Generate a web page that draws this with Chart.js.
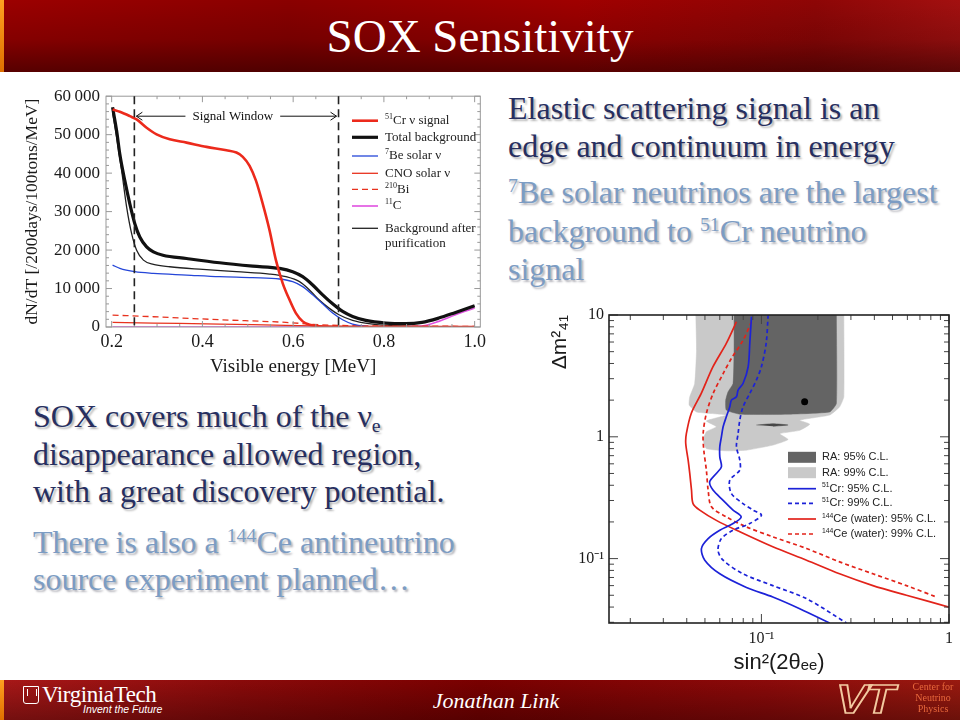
<!DOCTYPE html>
<html>
<head>
<meta charset="utf-8">
<script src="https://cdn.jsdelivr.net/npm/chart.js@4.4.1/dist/chart.umd.min.js"></script>
<style>
  html, body { margin: 0; padding: 0; }
  body { width: 960px; height: 720px; position: relative; overflow: hidden; background: #fff;
         font-family: "Liberation Serif", "Times New Roman", serif; }
  #header { position: absolute; left: 0; top: 0; width: 960px; height: 72px;
            background: linear-gradient(to bottom, rgba(0,0,0,0) 0%, rgba(0,0,0,0.15) 55%, rgba(30,0,0,0.55) 100%),
                        linear-gradient(to right, #9c0000 0%, #8a0000 30%, #a00000 60%, #8e0606 85%, #a31010 100%); }
  #footer { position: absolute; left: 0; top: 680px; width: 960px; height: 40px;
            background: linear-gradient(to bottom, rgba(0,0,0,0) 0%, rgba(20,0,0,0.35) 100%),
                        linear-gradient(to right, #a81818 0%, #8a0a0a 25%, #7a0000 50%, #8c0a0a 80%, #9a1a10 100%); }
  .stripe { position: absolute; left: 0; top: 0; width: 4px; height: 100%;
            background: linear-gradient(to bottom, #ffa020, #e07000); }
  #title { position: absolute; left: 0; top: 0; width: 960px; height: 72px; line-height: 72px;
           text-align: center; color: #fff; font-size: 47px; }
  .txt { position: absolute; font-size: 32px; line-height: 37.5px; white-space: nowrap; }
  .navy { color: #272f60; text-shadow: 2px 2px 2px rgba(0,0,0,0.3); }
  .light { color: #7c9cc3; text-shadow: 2px 2px 2px rgba(40,40,60,0.35); }
  sup { font-size: 62%; vertical-align: 0.55em; line-height: 0; }
  sub { font-size: 62%; vertical-align: -0.25em; line-height: 0; }
  .box { position: absolute; }
  #crest { position: absolute; left: 23px; top: 686px; width: 14px; height: 16px; border: 1.5px solid #fff;
           border-radius: 0 0 3px 3px; }
  #crest:after { content: ""; position: absolute; left: 3px; top: 2px; width: 8px; height: 7px;
                 border-left: 1.5px solid #fff; border-right: 1.5px solid #fff; }
  #vtname { position: absolute; left: 42px; top: 682px; color: #fff; font-size: 23px; letter-spacing: -0.4px; }
  #vtmotto { position: absolute; left: 83px; top: 703px; color: #fff; font: italic 10.5px "Liberation Sans", Arial, sans-serif; }
  #author { position: absolute; left: 0; top: 688px; width: 992px; text-align: center; color: #fff;
            font: italic 22px "Liberation Serif", "Times New Roman", serif; }
  #vtlogo { position: absolute; left: 836px; top: 677px; line-height: 40px;
            font: bold italic 40px "Liberation Sans", Arial, sans-serif; color: transparent;
            -webkit-text-stroke: 1.6px #f3c9a0; transform: scaleX(1.22); transform-origin: left top; letter-spacing: -3px; }
  #cnp { position: absolute; left: 907px; top: 681px; width: 52px; text-align: center; color: #e8683c;
         font-size: 10px; line-height: 11px; }
</style>
</head>
<body>

<div id="header"><div class="stripe"></div><div id="title">SOX Sensitivity</div></div>

<div class="txt navy" style="left:508px; top:90px;">Elastic scattering signal is an<br>edge and continuum in energy</div>
<div class="txt light" style="left:508px; top:173px; line-height:38.5px;"><sup>7</sup>Be solar neutrinos are the largest<br>background to <sup>51</sup>Cr neutrino<br>signal</div>
<div class="txt navy" style="left:33px; top:398px;">SOX covers much of the ν<sub>e</sub><br>disappearance allowed region,<br>with a great discovery potential.</div>
<div class="txt light" style="left:33px; top:524px; line-height:37px;">There is also a <sup>144</sup>Ce antineutrino<br>source experiment planned…</div>

<div class="box" style="left:20px; top:80px; width:470px; height:300px;">
  <canvas id="spectrum" width="470" height="300"></canvas>
</div>
<div class="box" style="left:540px; top:300px; width:420px; height:380px;">
  <canvas id="exclusion" width="420" height="380"></canvas>
</div>

<div id="footer"><div class="stripe"></div></div>
<div id="crest"></div>
<div id="vtname">VirginiaTech</div>
<div id="vtmotto">Invent the Future</div>
<div id="author">Jonathan Link</div>
<div id="vtlogo">VT</div>
<div id="cnp">Center for<br>Neutrino<br>Physics</div>

<script>
'use strict'

// ---------- spectrum plot: visible energy [MeV] vs dN/dT ----------
var spectrumTicksX = [0.2, 0.4, 0.6, 0.8, 1.0];
var spectrumTicksY = [0, 10000, 20000, 30000, 40000, 50000, 60000];
var windowLow = 0.25;
var windowHigh = 0.70;
var windowArrowLevel = 54800;
var windowLabelAt = 0.467;

var crSignalE = [0.202, 0.218, 0.240, 0.255, 0.277, 0.299, 0.328, 0.365, 0.409, 0.453, 0.475, 0.489, 0.504, 0.518, 0.533, 0.548, 0.562, 0.577, 0.592, 0.606, 0.621, 0.636, 0.657, 0.694, 0.80, 1.0];
var crSignalN = [56540, 55940, 54820, 53960, 51810, 50090, 48800, 47930, 46820, 45960, 45350, 44230, 41910, 38040, 32010, 25130, 17380, 11360, 7060, 3610, 1460, 600, 170, 0, 0, 0];

var totalBgE = [0.202, 0.211, 0.218, 0.229, 0.240, 0.251, 0.262, 0.277, 0.292, 0.313, 0.365, 0.438, 0.511, 0.570, 0.599, 0.621, 0.643, 0.665, 0.687, 0.709, 0.731, 0.760, 0.804, 0.848, 0.884, 0.921, 0.958, 1.0];
var totalBgN = [57140, 50950, 44920, 38040, 32010, 26850, 23410, 20830, 19540, 18670, 17810, 16700, 15830, 15230, 14370, 13080, 10930, 8350, 6020, 4040, 2750, 1720, 1030, 860, 1200, 2320, 3790, 5510];

var be7E = [0.202, 0.218, 0.251, 0.292, 0.365, 0.438, 0.511, 0.570, 0.599, 0.621, 0.643, 0.665, 0.687, 0.709, 0.731, 0.760, 0.804, 1.0];
var be7N = [16090, 15230, 14370, 13940, 13510, 13080, 12820, 12480, 11790, 10500, 8350, 6020, 3610, 1890, 770, 170, 0, 0];

var cnoE = [0.202, 0.292, 0.438, 0.584, 0.731, 1.0];
var cnoN = [1200, 1030, 770, 430, 170, 90];

var bi210E = [0.202, 0.292, 0.438, 0.584, 0.657, 0.731, 1.0];
var bi210N = [3100, 2670, 1890, 1200, 600, 340, 170];

var c11E = [0.202, 0.5, 0.8, 0.877, 0.921, 0.958, 1.0];
var c11N = [0, 0, 0, 170, 1460, 3180, 4910];

var purifiedE = [0.202, 0.211, 0.222, 0.233, 0.244, 0.255, 0.270, 0.292, 0.328, 0.401, 0.475, 0.548, 0.584, 0.614, 0.636, 0.657, 0.679, 0.701, 0.731, 0.767, 0.804, 0.877, 1.0];
var purifiedN = [55680, 49230, 40620, 31150, 24270, 19970, 17380, 16270, 15660, 14970, 14370, 13770, 13080, 11790, 9640, 7060, 4910, 3180, 1720, 860, 430, 170, 90];

// ---------- exclusion plot: sin^2(2theta_ee) vs dm^2_41 ----------
var ra99X = [0.0447, 0.0451, 0.0441, 0.0415, 0.0412, 0.0451, 0.065, 0.0509, 0.0575, 0.0509, 0.0489, 0.0509, 0.065, 0.0832, 0.1153, 0.1387, 0.1253, 0.160, 0.181, 0.160, 0.231, 0.261, 0.275, 0.275];
var ra99Y = [10, 5.15, 2.74, 2.13, 1.82, 1.60, 1.51, 1.35, 1.21, 1.1, 0.94, 0.80, 0.767, 0.777, 0.855, 0.95, 1.06, 1.13, 1.27, 1.37, 1.51, 1.76, 2.13, 10];

var ra95X = [0.0715, 0.0715, 0.0706, 0.0664, 0.0645, 0.065, 0.0767, 0.1416, 0.231, 0.251, 0.251];
var ra95Y = [10, 5.15, 2.74, 2.34, 2.0, 1.66, 1.535, 1.535, 1.6, 1.88, 10];

var raIslandX = [0.094, 0.1153, 0.1387, 0.1153];
var raIslandY = [1.25, 1.28, 1.25, 1.22];

var bestFitX = [0.170];
var bestFitY = [1.94];

var cr95X = [0.0885, 0.0867, 0.085, 0.0798, 0.0751, 0.0736, 0.0692, 0.0678, 0.065, 0.0625, 0.0612, 0.060, 0.060, 0.0612, 0.0575, 0.053, 0.0552, 0.0625, 0.0706, 0.078, 0.0706, 0.060, 0.052, 0.0479, 0.0499, 0.060, 0.0832, 0.115, 0.160, 0.231];
var cr95Y = [9.7, 5.85, 3.76, 2.74, 2.42, 2.13, 2.0, 1.76, 1.46, 1.21, 1.0, 0.83, 0.685, 0.567, 0.50, 0.427, 0.365, 0.301, 0.25, 0.22, 0.194, 0.171, 0.146, 0.121, 0.097, 0.075, 0.058, 0.0484, 0.0388, 0.0296];

var cr99X = [0.1086, 0.106, 0.1, 0.094, 0.0867, 0.0798, 0.0767, 0.0751, 0.0736, 0.0767, 0.0767, 0.0678, 0.0692, 0.0798, 0.0903, 0.1, 0.0867, 0.0706, 0.0612, 0.0587, 0.0625, 0.0798, 0.115, 0.174, 0.284];
var cr99Y = [10, 5.85, 3.76, 2.92, 2.27, 1.76, 1.37, 1.06, 0.83, 0.643, 0.532, 0.44, 0.342, 0.283, 0.25, 0.227, 0.194, 0.171, 0.146, 0.117, 0.097, 0.075, 0.06, 0.0469, 0.0296];

var ce95X = [0.0736, 0.065, 0.0552, 0.0478, 0.0423, 0.0398, 0.0395, 0.0407, 0.0415, 0.0424, 0.0432, 0.0469, 0.0575, 0.0767, 0.115, 0.174, 0.261, 0.393, 0.593, 1.0];
var ce95Y = [8.8, 5.85, 3.76, 2.27, 1.56, 1.06, 0.88, 0.64, 0.50, 0.365, 0.283, 0.25, 0.206, 0.166, 0.125, 0.097, 0.075, 0.060, 0.050, 0.040];

var ce99X = [0.0885, 0.0798, 0.0692, 0.0625, 0.0553, 0.0509, 0.0489, 0.0493, 0.0509, 0.0520, 0.0542, 0.065, 0.0832, 0.115, 0.174, 0.261, 0.393, 0.593, 0.857];
var ce99Y = [8.8, 6.2, 4.4, 3.3, 2.27, 1.56, 1.06, 0.78, 0.53, 0.365, 0.266, 0.22, 0.182, 0.151, 0.121, 0.094, 0.075, 0.060, 0.0484];

var exclTicksX = [0.1, 1];
var exclTicksY = [0.1, 1, 10];

Chart.defaults.font.family = '"Liberation Serif", "Times New Roman", serif';
Chart.defaults.color = '#1a1a1a';

var serifFont = '"Liberation Serif", "Times New Roman", serif';
var sansFont = '"Liberation Sans", Arial, sans-serif';

function pts(xs, ys) {
  return xs.map(function(x, i) { return {x: x, y: ys[i]}; });
}

function curve(label, xs, ys, color, width, dash, smooth) {
  var ds = {
    label: label, data: pts(xs, ys), showLine: true, fill: false,
    borderColor: color, backgroundColor: color, borderWidth: width, borderDash: dash,
    pointRadius: 0, order: 1
  };
  if (smooth) { ds.cubicInterpolationMode = 'monotone'; } else { ds.tension = 0.3; }
  return ds;
}

// all k*10^n between min and max, for log tick marks
function logSteps(min, max) {
  var out = [];
  for (var e = Math.floor(Math.log10(min)); e <= Math.ceil(Math.log10(max)); e++) {
    for (var k = 1; k < 10; k++) {
      var v = k * Math.pow(10, e);
      if (v >= min * 0.999 && v <= max * 1.001) out.push({v: v, major: k === 1});
    }
  }
  return out;
}

function logLabel(v) {
  if (Math.abs(v - 10) < 1e-9) return '10';
  if (Math.abs(v - 1) < 1e-9) return '1';
  if (Math.abs(v - 0.1) < 1e-9) return '10\u207B\u00B9';
  return '';
}

// text with ^{..} superscripts, baseline 'middle'
function richText(ctx, text, x, y, size, family) {
  text.split(/(\^\{[^}]*\})/).forEach(function(p) {
    if (!p) return;
    if (p.indexOf('^{') === 0) {
      ctx.font = (size * 0.62) + 'px ' + family;
      p = p.slice(2, -1);
      ctx.fillText(p, x, y - size * 0.3);
    } else {
      ctx.font = size + 'px ' + family;
      ctx.fillText(p, x, y);
    }
    x += ctx.measureText(p).width;
  });
}

// inside tick marks on the four sides
function drawTicks(ctx, a, sx, sy, xs, ys, majorLen, minorLen) {
  ctx.beginPath();
  xs.forEach(function(t) {
    var px = sx.getPixelForValue(t.v), l = t.major ? majorLen : minorLen;
    ctx.moveTo(px, a.bottom); ctx.lineTo(px, a.bottom - l);
    ctx.moveTo(px, a.top); ctx.lineTo(px, a.top + l);
  });
  ys.forEach(function(t) {
    var py = sy.getPixelForValue(t.v), l = t.major ? majorLen : minorLen;
    ctx.moveTo(a.left, py); ctx.lineTo(a.left + l, py);
    ctx.moveTo(a.right, py); ctx.lineTo(a.right - l, py);
  });
  ctx.stroke();
}

var spectrumFrame = {
  id: 'spectrumFrame',
  afterDatasetsDraw: function(chart) {
    var ctx = chart.ctx, a = chart.chartArea, sx = chart.scales.x, sy = chart.scales.y;
    var xs = [], ys = [], i;
    for (i = 0; i <= 16; i++) xs.push({v: 0.2 + i * 0.05, major: i % 4 === 0});
    for (i = 0; i <= 30; i++) ys.push({v: i * 2000, major: i % 5 === 0});
    ctx.save();
    ctx.strokeStyle = '#999'; ctx.lineWidth = 1;
    drawTicks(ctx, a, sx, sy, xs, ys, 6, 3);
    ctx.strokeRect(a.left, a.top, a.right - a.left, a.bottom - a.top);

    // signal window markers
    var x1 = sx.getPixelForValue(windowLow), x2 = sx.getPixelForValue(windowHigh);
    ctx.strokeStyle = '#222'; ctx.lineWidth = 1.6; ctx.setLineDash([8, 5]);
    [x1, x2].forEach(function(x) {
      ctx.beginPath(); ctx.moveTo(x, a.top); ctx.lineTo(x, a.bottom); ctx.stroke();
    });
    ctx.setLineDash([]);
    var y = sy.getPixelForValue(windowArrowLevel);
    var tx = sx.getPixelForValue(windowLabelAt);
    ctx.font = '13px ' + serifFont;
    var w = ctx.measureText('Signal Window').width;
    ctx.lineWidth = 1; ctx.strokeStyle = '#111';
    ctx.beginPath();
    ctx.moveTo(x1 + 2, y); ctx.lineTo(tx - w / 2 - 7, y);
    ctx.moveTo(tx + w / 2 + 7, y); ctx.lineTo(x2 - 2, y);
    ctx.moveTo(x1 + 8, y - 4); ctx.lineTo(x1 + 2, y); ctx.lineTo(x1 + 8, y + 4);
    ctx.moveTo(x2 - 8, y - 4); ctx.lineTo(x2 - 2, y); ctx.lineTo(x2 - 8, y + 4);
    ctx.stroke();
    ctx.fillStyle = '#111'; ctx.textAlign = 'center'; ctx.textBaseline = 'middle';
    ctx.fillText('Signal Window', tx, y);

    // legend
    var rows = [40.7, 57.3, 76, 93.3, 109.3, 126, 148.3];
    ctx.textAlign = 'left';
    chart.data.datasets.forEach(function(ds, i) {
      var ry = rows[i];
      ctx.beginPath();
      ctx.strokeStyle = ds.borderColor; ctx.lineWidth = ds.borderWidth;
      ctx.setLineDash(ds.borderDash || []);
      ctx.moveTo(332, ry); ctx.lineTo(358, ry); ctx.stroke();
      ctx.setLineDash([]);
      ctx.fillStyle = '#222';
      ds.label.split('\n').forEach(function(part, j) {
        richText(ctx, part, 365, ry + j * 15, 13, serifFont);
      });
    });
    ctx.restore();
  }
};

var exclusionFrame = {
  id: 'exclusionFrame',
  afterDatasetsDraw: function(chart) {
    var ctx = chart.ctx, a = chart.chartArea, sx = chart.scales.x, sy = chart.scales.y;
    ctx.save();
    ctx.strokeStyle = '#444'; ctx.lineWidth = 1;
    drawTicks(ctx, a, sx, sy, logSteps(sx.min, sx.max), logSteps(sy.min, sy.max), 9, 5);
    ctx.strokeStyle = '#222'; ctx.lineWidth = 1.6;
    ctx.strokeRect(a.left, a.top, a.right - a.left, a.bottom - a.top);

    // legend
    var rows = [157.3, 172.7, 188.7, 203.3, 219, 234];
    ctx.textAlign = 'left'; ctx.textBaseline = 'middle';
    var r = 0;
    chart.data.datasets.forEach(function(ds) {
      if (!ds.inLegend) return;
      var ry = rows[r++];
      if (ds.fill === 'shape') {
        ctx.fillStyle = ds.backgroundColor;
        ctx.fillRect(248, ry - 5.5, 28, 11);
      } else {
        ctx.beginPath();
        ctx.strokeStyle = ds.borderColor; ctx.lineWidth = ds.borderWidth;
        ctx.setLineDash(ds.borderDash || []);
        ctx.moveTo(248, ry); ctx.lineTo(276, ry); ctx.stroke();
        ctx.setLineDash([]);
      }
      ctx.fillStyle = '#222';
      richText(ctx, ds.label, 282, ry, 11, sansFont);
    });
    ctx.restore();
  }
};

// ---------- spectrum chart ----------
new Chart(document.getElementById('spectrum'), {
  type: 'scatter',
  data: {
    datasets: [
      curve('^{51}Cr \u03BD signal', crSignalE, crSignalN, '#ec2a1c', 2.6, [], true),
      curve('Total background', totalBgE, totalBgN, '#111', 3.2, [], true),
      curve('^{7}Be solar \u03BD', be7E, be7N, '#2546d8', 1.3, [], true),
      curve('CNO solar \u03BD', cnoE, cnoN, '#e8321e', 1.3, [], true),
      curve('^{210}Bi', bi210E, bi210N, '#e8321e', 1.3, [6, 4], true),
      curve('^{11}C', c11E, c11N, '#e050e0', 1.6, [], true),
      curve('Background after\npurification', purifiedE, purifiedN, '#222', 1.3, [], true)
    ]
  },
  options: {
    responsive: false,
    animation: false,
    layout: { padding: { top: 15, right: 7, left: 0, bottom: 0 } },
    plugins: { legend: { display: false }, tooltip: { enabled: false } },
    scales: {
      x: {
        type: 'linear', min: 0.1875, max: 1.0125,
        grid: { display: false, drawTicks: false }, border: { display: false },
        afterBuildTicks: function(s) { s.ticks = spectrumTicksX.map(function(v) { return {value: v}; }); },
        afterFit: function(s) { s.height = 53; },
        ticks: { padding: 4, font: { size: 18 }, maxRotation: 0, autoSkip: false,
                 callback: function(v) { return v.toFixed(1); } },
        title: { display: true, text: 'Visible energy [MeV]', font: { size: 19 }, padding: { top: 0, bottom: 2 } }
      },
      y: {
        type: 'linear', min: 0, max: 60000,
        grid: { display: false, drawTicks: false }, border: { display: false },
        afterBuildTicks: function(s) { s.ticks = spectrumTicksY.map(function(v) { return {value: v}; }); },
        afterFit: function(s) { s.width = 86; },
        ticks: { padding: 6, font: { size: 17 }, autoSkip: false,
                 callback: function(v) { return v === 0 ? '0' : (v / 1000) + '\u2009000'; } },
        title: { display: true, text: 'dN/dT [/200days/100tons/MeV]', font: { size: 17.5 }, padding: { top: 2, bottom: 0 } }
      }
    }
  },
  plugins: [spectrumFrame]
});

// ---------- exclusion chart ----------
function region(label, xs, ys, color, order, inLegend) {
  return {
    label: label, data: pts(xs, ys), showLine: true, fill: 'shape', tension: 0.15,
    backgroundColor: color, borderColor: color, borderWidth: 0.5, pointRadius: 0,
    order: order, inLegend: inLegend
  };
}

var cr95 = curve('^{51}Cr: 95% C.L.', cr95X, cr95Y, '#1c22d8', 1.7, [], false);
var cr99 = curve('^{51}Cr: 99% C.L.', cr99X, cr99Y, '#1c22d8', 1.7, [4, 3], false);
var ce95 = curve('^{144}Ce (water): 95% C.L.', ce95X, ce95Y, '#e2231a', 1.7, [], false);
var ce99 = curve('^{144}Ce (water): 99% C.L.', ce99X, ce99Y, '#e2231a', 1.7, [4, 3], false);
[cr95, cr99, ce95, ce99].forEach(function(d) { d.inLegend = true; });

new Chart(document.getElementById('exclusion'), {
  type: 'scatter',
  data: {
    datasets: [
      region('RA: 95% C.L.', ra95X, ra95Y, '#646464', 3, true),
      region('RA: 99% C.L.', ra99X, ra99Y, '#c9c9c9', 4, true),
      region('', raIslandX, raIslandY, '#464646', 2, false),
      cr95, cr99, ce95, ce99,
      { label: 'best fit', data: pts(bestFitX, bestFitY), pointRadius: 3.5, pointBackgroundColor: '#000',
        pointBorderWidth: 0, showLine: false, order: 0 }
    ]
  },
  options: {
    responsive: false,
    animation: false,
    layout: { padding: { top: 15, right: 11, left: 0, bottom: 0 } },
    plugins: { legend: { display: false }, tooltip: { enabled: false } },
    scales: {
      x: {
        type: 'logarithmic', min: 0.0154, max: 1,
        grid: { display: false, drawTicks: false }, border: { display: false },
        afterBuildTicks: function(s) { s.ticks = exclTicksX.map(function(v) { return {value: v}; }); },
        afterFit: function(s) { s.height = 57; },
        ticks: { padding: 6, font: { size: 16 }, maxRotation: 0, autoSkip: false,
                 callback: function(v) { return logLabel(v); } },
        title: { display: true, text: 'sin\u00B2(2\u03B8\u2091\u2091)', font: { family: sansFont, size: 22 },
                 padding: { top: 0, bottom: 4 } }
      },
      y: {
        type: 'logarithmic', min: 0.0296, max: 10,
        grid: { display: false, drawTicks: false }, border: { display: false },
        afterBuildTicks: function(s) { s.ticks = exclTicksY.map(function(v) { return {value: v}; }); },
        afterFit: function(s) { s.width = 69; },
        ticks: { padding: 5, font: { size: 16 }, autoSkip: false,
                 callback: function(v) { return logLabel(v); } },
        title: { display: true, text: '\u0394m\u00B2\u2084\u2081', align: 'end', font: { family: sansFont, size: 21 },
                 padding: { top: 8, bottom: 0 } }
      }
    }
  },
  plugins: [exclusionFrame]
});
</script>
</body>
</html>
